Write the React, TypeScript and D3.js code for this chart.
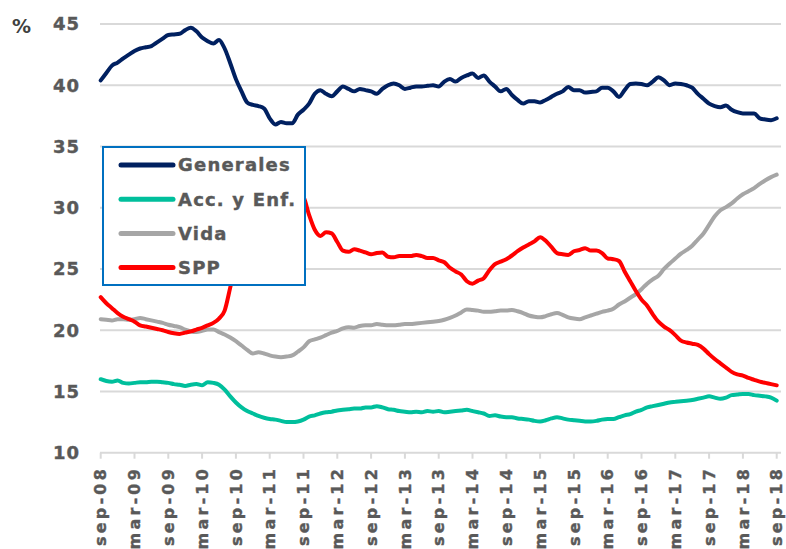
import React, {useRef, useEffect} from "react";
import * as d3 from "d3";

// monthly shares, sep-08 .. sep-18 (121 months)
const generales = [
  40.4, 41.0, 41.6, 41.85, 42.2, 42.5, 42.8, 43.0, 43.1, 43.2, 43.5, 43.8, 44.1, 44.15, 44.2, 44.5, 44.7, 44.4, 43.9, 43.6,
  43.4, 43.7, 43.0, 41.8, 40.5, 39.5, 38.6, 38.4, 38.3, 38.1, 37.3, 36.8, 37.0, 36.9, 36.9, 37.6, 38.0, 38.5, 39.3, 39.6,
  39.3, 39.1, 39.5, 39.9, 39.7, 39.5, 39.7, 39.6, 39.5, 39.3, 39.7, 40.0, 40.15, 40.0, 39.7, 39.8, 39.9, 39.9, 39.95, 40.0,
  39.9, 40.3, 40.5, 40.3, 40.6, 40.8, 40.95, 40.6, 40.8, 40.3, 39.9, 39.5, 39.7, 39.2, 38.8, 38.5, 38.7, 38.7, 38.6, 38.8,
  39.05, 39.3, 39.5, 39.85, 39.6, 39.6, 39.4, 39.45, 39.5, 39.8, 39.8, 39.5, 39.05, 39.6, 40.1, 40.15, 40.1, 40.0, 40.3, 40.65,
  40.4, 40.0, 40.15, 40.1, 40.0, 39.8, 39.3, 38.9, 38.5, 38.3, 38.2, 38.35, 38.0, 37.8, 37.7, 37.7, 37.7, 37.3, 37.2, 37.15,
  37.3,
];

const accEnf = [
  16.0, 15.85, 15.8, 15.9, 15.7, 15.65, 15.7, 15.75, 15.75, 15.8, 15.8, 15.75, 15.7, 15.6, 15.55, 15.45, 15.55, 15.6, 15.5, 15.75,
  15.7, 15.55, 15.15, 14.6, 14.1, 13.7, 13.4, 13.2, 13.0, 12.85, 12.75, 12.7, 12.6, 12.5, 12.5, 12.55, 12.7, 12.95, 13.05, 13.2,
  13.3, 13.35, 13.45, 13.5, 13.55, 13.6, 13.6, 13.7, 13.7, 13.8, 13.7, 13.55, 13.5, 13.4, 13.35, 13.3, 13.35, 13.3, 13.4, 13.35,
  13.4, 13.3, 13.35, 13.4, 13.45, 13.5, 13.4, 13.3, 13.2, 13.0, 13.05, 12.95, 12.9, 12.9, 12.8, 12.75, 12.7, 12.6, 12.55, 12.65,
  12.8, 12.9, 12.8, 12.7, 12.65, 12.6, 12.55, 12.55, 12.6, 12.7, 12.75, 12.75, 12.9, 13.05, 13.15, 13.35, 13.5, 13.7, 13.8, 13.9,
  14.0, 14.1, 14.15, 14.2, 14.25, 14.3, 14.4, 14.5, 14.6, 14.5, 14.4, 14.5, 14.7, 14.75, 14.8, 14.8, 14.7, 14.65, 14.6, 14.5,
  14.25,
];

const vida = [
  20.9, 20.85, 20.8, 20.9, 20.9, 20.85, 20.9, 21.0, 20.9, 20.8, 20.7, 20.6, 20.45, 20.35, 20.25, 20.05, 19.9, 19.85, 19.95, 20.05,
  20.05, 19.85, 19.65, 19.4, 19.1, 18.75, 18.4, 18.1, 18.2, 18.1, 17.95, 17.85, 17.8, 17.85, 17.95, 18.25, 18.6, 19.1, 19.25, 19.4,
  19.6, 19.8, 19.95, 20.15, 20.25, 20.2, 20.35, 20.4, 20.4, 20.5, 20.45, 20.4, 20.4, 20.45, 20.5, 20.5, 20.55, 20.6, 20.65, 20.7,
  20.75, 20.85, 21.0, 21.2, 21.45, 21.7, 21.65, 21.6, 21.5, 21.5, 21.55, 21.6, 21.6, 21.65, 21.55, 21.4, 21.2, 21.1, 21.05, 21.15,
  21.3, 21.4, 21.25, 21.05, 20.95, 20.9, 21.05, 21.2, 21.35, 21.5, 21.6, 21.75, 22.1, 22.35, 22.65, 22.95, 23.35, 23.8, 24.15, 24.45,
  25.0, 25.45, 25.85, 26.25, 26.55, 26.9, 27.4, 27.9, 28.6, 29.3, 29.8, 30.05, 30.35, 30.75, 31.1, 31.35, 31.6, 31.95, 32.25, 32.5,
  32.7,
];

const spp = [
  22.7, 22.2, 21.8, 21.4, 21.1, 20.9, 20.7, 20.4, 20.3, 20.2, 20.1, 20.0, 19.85, 19.75, 19.7, 19.8, 19.9, 20.05, 20.2, 20.4,
  20.6, 20.95, 21.6, 23.5, 25.5, 27.2, 28.5, 29.5, 30.2, 30.7, 31.0, 31.2, 31.3, 31.4, 31.5, 31.4, 30.9, 29.4, 28.2, 27.7,
  28.0, 27.9, 27.2, 26.5, 26.4, 26.6, 26.5, 26.35, 26.2, 26.3, 26.35, 26.0, 25.95, 26.05, 26.05, 26.05, 26.15, 26.05, 25.9, 25.9,
  25.7, 25.55, 25.1, 24.8, 24.55, 24.0, 23.8, 24.05, 24.25, 24.9, 25.4, 25.6, 25.8, 26.1, 26.45, 26.75, 27.0, 27.25, 27.6, 27.3,
  26.8, 26.3, 26.2, 26.15, 26.45, 26.55, 26.7, 26.5, 26.5, 26.3, 25.85, 25.8, 25.65, 24.8, 24.0, 23.2, 22.5, 22.0, 21.3, 20.7,
  20.3, 20.0, 19.6, 19.15, 19.0, 18.9, 18.8, 18.5, 18.05, 17.65, 17.3, 16.95, 16.6, 16.4, 16.3, 16.1, 15.95, 15.8, 15.7, 15.6,
  15.5,
];

const tickLabels = [
  "sep-08", "mar-09", "sep-09", "mar-10", "sep-10", "mar-11", "sep-11", "mar-12", "sep-12", "mar-13", "sep-13",
  "mar-14", "sep-14", "mar-15", "sep-15", "mar-16", "sep-16", "mar-17", "sep-17", "mar-18", "sep-18",
];

const yTicks = [10, 15, 20, 25, 30, 35, 40, 45];

const seriesNames = ["Generales", "Acc. y Enf.", "Vida", "SPP"];
const seriesColors = ["#002060", "#00BF9C", "#A6A6A6", "#FF0000"];
const seriesValues = [generales, accEnf, vida, spp];

const FONT = "'DejaVu Sans', sans-serif";
const TEXT = "#595959";

export default function App() {
  const svgRef = useRef<SVGSVGElement>(null);

  useEffect(() => {
    const svg = d3.select(svgRef.current);
    svg.selectAll("*").remove();

    const x = d3.scaleLinear().domain([0, 120]).range([100.7, 776.7]);
    const y = d3.scaleLinear().domain([10, 45]).range([452.7, 24]);

    // Grid lines
    svg
      .append("g")
      .selectAll("line")
      .data(yTicks)
      .join("line")
      .attr("x1", 100)
      .attr("x2", 781)
      .attr("y1", (d) => y(d))
      .attr("y2", (d) => y(d))
      .attr("stroke", "#d9d9d9")
      .attr("stroke-width", 2);

    // X tick marks
    svg
      .append("g")
      .selectAll("line")
      .data(tickLabels)
      .join("line")
      .attr("x1", (d, i) => x(i * 6))
      .attr("x2", (d, i) => x(i * 6))
      .attr("y1", y(10))
      .attr("y2", y(10) + 6)
      .attr("stroke", "#d9d9d9")
      .attr("stroke-width", 2);

    // Y tick labels
    svg
      .append("g")
      .selectAll("text")
      .data(yTicks)
      .join("text")
      .attr("x", 80)
      .attr("y", (d) => y(d))
      .attr("dy", "0.36em")
      .attr("text-anchor", "end")
      .style("font-family", FONT)
      .style("font-weight", "bold")
      .style("font-size", "18px")
      .style("letter-spacing", "1px")
      .style("fill", TEXT)
      .style("stroke", TEXT)
      .style("stroke-width", 0.4)
      .text((d) => d);

    svg
      .append("text")
      .attr("x", 12)
      .attr("y", 33)
      .style("font-family", FONT)
      .style("font-weight", "bold")
      .style("font-size", "19px")
      .style("fill", "#404040")
      .text("%");

    // X tick labels, rotated
    svg
      .append("g")
      .selectAll("text")
      .data(tickLabels)
      .join("text")
      .attr("transform", (d, i) => `translate(${x(i * 6)},${466}) rotate(-90)`)
      .attr("dy", "0.36em")
      .attr("text-anchor", "end")
      .style("font-family", FONT)
      .style("font-weight", "bold")
      .style("font-size", "16px")
      .style("letter-spacing", "3.2px")
      .style("fill", TEXT)
      .style("stroke", TEXT)
      .style("stroke-width", 0.4)
      .text((d) => d);

    // Series
    const line = d3
      .line<number>()
      .x((d, i) => x(i))
      .y((d) => y(d))
      .curve(d3.curveMonotoneX);

    svg
      .append("g")
      .selectAll("path")
      .data(seriesValues)
      .join("path")
      .attr("d", (d) => line(d))
      .attr("fill", "none")
      .attr("stroke", (d, i) => seriesColors[i])
      .attr("stroke-width", 4)
      .attr("stroke-linejoin", "round")
      .attr("stroke-linecap", "round");

    // Legend
    const lg = svg.append("g");
    lg.append("rect")
      .attr("x", 103)
      .attr("y", 147)
      .attr("width", 202)
      .attr("height", 138)
      .attr("fill", "#fff")
      .attr("stroke", "#0070C0")
      .attr("stroke-width", 2);

    const rows = lg
      .selectAll("g.item")
      .data(seriesNames)
      .join("g")
      .attr("class", "item")
      .attr("transform", (d, i) => `translate(0,${165 + i * 34.2})`);

    rows
      .append("line")
      .attr("x1", 121)
      .attr("x2", 173)
      .attr("stroke", (d, i) => seriesColors[i])
      .attr("stroke-width", 5)
      .attr("stroke-linecap", "round");

    rows
      .append("text")
      .attr("x", 178)
      .attr("dy", "0.36em")
      .style("font-family", FONT)
      .style("font-weight", "bold")
      .style("font-size", "18px")
      .style("letter-spacing", "1.2px")
      .style("fill", TEXT)
      .style("stroke", TEXT)
      .style("stroke-width", 0.4)
      .text((d) => d);

    return () => {
      d3.select(svgRef.current).selectAll("*").remove();
    };
  }, []);

  return (
    <svg
      ref={svgRef}
      width={786}
      height={549}
      style={{position: "absolute", left: 0, top: 0, background: "#fff"}}
    />
  );
}
